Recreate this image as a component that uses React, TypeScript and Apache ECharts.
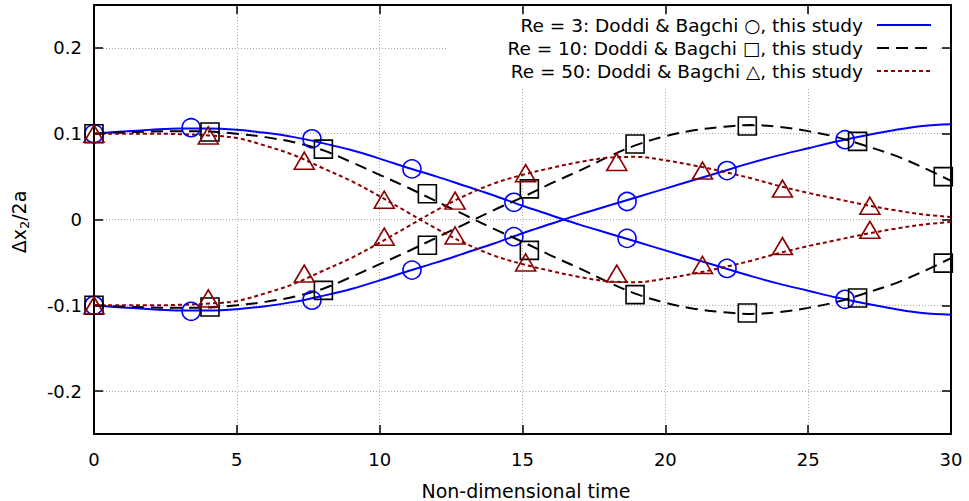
import React, { useEffect, useRef } from "react";
import * as echarts from "echarts";

const TIME = [0, 1, 2, 3, 4, 5, 6, 7, 8, 9, 10, 11, 12, 13, 14, 15, 16, 17, 18, 19, 20, 21, 22, 23, 24, 25, 26, 27, 28, 29, 30];

// this study (lines)
const RE3_UP = [0.1, 0.1025, 0.1045, 0.106, 0.106, 0.1045, 0.101, 0.096, 0.089, 0.081, 0.071, 0.06, 0.05, 0.039, 0.028, 0.016, 0.005, -0.006, -0.016, -0.026, -0.036, -0.046, -0.056, -0.066, -0.075, -0.083, -0.091, -0.098, -0.104, -0.109, -0.111];
const RE3_DN = [-0.1, -0.1025, -0.1045, -0.106, -0.106, -0.1045, -0.101, -0.096, -0.089, -0.081, -0.071, -0.06, -0.05, -0.039, -0.028, -0.016, -0.005, 0.006, 0.016, 0.026, 0.036, 0.046, 0.056, 0.066, 0.075, 0.083, 0.091, 0.098, 0.104, 0.109, 0.111];
const RE10_UP = [0.1, 0.1015, 0.1025, 0.103, 0.1025, 0.1, 0.096, 0.09, 0.081, 0.067, 0.052, 0.037, 0.021, 0.005, -0.011, -0.026, -0.042, -0.057, -0.073, -0.087, -0.097, -0.104, -0.108, -0.11, -0.108, -0.103, -0.096, -0.086, -0.075, -0.061, -0.045];
const RE10_DN = [-0.1, -0.1015, -0.1025, -0.103, -0.1025, -0.1, -0.096, -0.09, -0.081, -0.067, -0.052, -0.037, -0.021, -0.005, 0.011, 0.026, 0.042, 0.057, 0.073, 0.087, 0.097, 0.104, 0.108, 0.11, 0.108, 0.103, 0.096, 0.086, 0.075, 0.061, 0.045];
const RE50_UP = [0.1, 0.1, 0.1, 0.0995, 0.098, 0.095, 0.086, 0.075, 0.06, 0.045, 0.027, 0.008, -0.011, -0.028, -0.042, -0.052, -0.06, -0.067, -0.072, -0.073, -0.069, -0.063, -0.056, -0.048, -0.039, -0.031, -0.024, -0.017, -0.011, -0.006, -0.003];
const RE50_DN = [-0.1, -0.1, -0.1, -0.0995, -0.098, -0.095, -0.086, -0.075, -0.06, -0.045, -0.027, -0.008, 0.011, 0.028, 0.042, 0.052, 0.06, 0.067, 0.072, 0.073, 0.069, 0.063, 0.056, 0.048, 0.039, 0.031, 0.024, 0.017, 0.011, 0.006, 0.003];

// Doddi & Bagchi (markers)
const RE3_MX = [0, 3.4, 7.63, 11.13, 14.7, 18.66, 22.16, 26.29];
const RE3_MUP = [0.1, 0.107, 0.094, 0.059, 0.02, -0.022, -0.057, -0.093];
const RE3_MDN = [-0.1, -0.107, -0.094, -0.059, -0.02, 0.021, 0.057, 0.093];
const RE10_MX = [0, 4.06, 8.03, 11.67, 15.24, 18.94, 22.87, 26.73, 29.73];
const RE10_MUP = [0.1, 0.102, 0.082, 0.03, -0.036, -0.0876, -0.109, -0.0915, -0.0508];
const RE10_MDN = [-0.1, -0.102, -0.0826, -0.03, 0.0357, 0.088, 0.109, 0.091, 0.05];
const RE50_MX = [0, 4.0, 7.36, 10.16, 12.64, 15.11, 18.3, 21.3, 24.1, 27.16];
const RE50_MUP = [0.1, 0.098, 0.0686, 0.023, -0.0186, -0.05, -0.063, -0.053, -0.031, -0.012];
const RE50_MDN = [-0.1, -0.092, -0.063, -0.02, 0.022, 0.054, 0.067, 0.057, 0.036, 0.016];

const LEGEND_TEXTS = [
  "Re = 3: Doddi & Bagchi \u25CB, this study",
  "Re = 10: Doddi & Bagchi \u25A1, this study",
  "Re = 50: Doddi & Bagchi \u25B3, this study",
];

const X_TITLE = "Non-dimensional time";

const BLUE = "#0000ff";
const BLACK = "#000000";
const DRED = "#8b0000";
const FONT = "DejaVu Sans";

const pair = (xs: number[], ys: number[]) => xs.map((x, i) => [x, ys[i]]);

export default function App() {
  const ref = useRef<HTMLDivElement>(null);
  useEffect(() => {
    if (!ref.current) return;
    const chart = echarts.init(ref.current, null, { renderer: "svg" });
    const lineS = (data: number[], color: string, type: any) => ({
      type: "line",
      data: pair(TIME, data),
      smooth: 0.35,
      showSymbol: false,
      symbol: "none",
      lineStyle: { color, width: 2, type },
      z: 3,
    });
    const markS = (xs: number[], ys: number[], color: string, symbol: string, size: any) => ({
      type: "scatter",
      data: pair(xs, ys),
      symbol,
      symbolSize: size,
      clip: false,
      itemStyle: { color: "rgba(0,0,0,0)", borderColor: color, borderWidth: 1.6, opacity: 1 },
      z: 4,
    });
    const axisLine = { show: true, onZero: false, lineStyle: { color: "#000", width: 2 } };
    const tick = { show: true, inside: true, length: 9, lineStyle: { color: "#000", width: 1.5 } };
    const grid = { show: true, lineStyle: { color: "#a8a8a8", width: 1, type: [1, 2] } };
    const legendY = [25, 48, 71];
    const legendStyles: any[] = [
      { color: BLUE, dash: null },
      { color: BLACK, dash: [12, 7] },
      { color: DRED, dash: [4, 3] },
    ];
    const graphic: any[] = [
      {
        type: "rect",
        shape: { x: 447, y: 15, width: 493, height: 72 },
        style: { fill: "#ffffff" },
        z: 5,
      },
    ];
    LEGEND_TEXTS.forEach((t, i) => {
      graphic.push({
        type: "text",
        x: 863,
        y: legendY[i],
        z: 6,
        style: {
          text: t,
          fill: "#000",
          fontSize: 18.5,
          fontFamily: FONT,
          align: "right",
          verticalAlign: "middle",
          textAlign: "right",
          textVerticalAlign: "middle",
        },
      });
      graphic.push({
        type: "line",
        z: 6,
        shape: { x1: 877, y1: legendY[i], x2: 931, y2: legendY[i] },
        style: { stroke: legendStyles[i].color, lineWidth: 2, lineDash: legendStyles[i].dash },
      });
    });
    graphic.push({
      type: "text",
      x: 526,
      y: 491,
      z: 6,
      style: {
        text: X_TITLE,
        fill: "#000",
        fontSize: 19,
        fontFamily: FONT,
        align: "center",
        verticalAlign: "middle",
        textAlign: "center",
        textVerticalAlign: "middle",
      },
    });
    graphic.push({
      type: "text",
      x: 19,
      y: 222,
      rotation: Math.PI / 2,
      z: 6,
      style: {
        text: "{a|\u0394x}{s|2}{a|/2a}",
        fill: "#000",
        fontFamily: FONT,
        align: "center",
        verticalAlign: "middle",
        textAlign: "center",
        textVerticalAlign: "middle",
        rich: {
          a: { fontSize: 19, fontFamily: FONT, fill: "#000", color: "#000", lineHeight: 24, verticalAlign: "middle" },
          s: { fontSize: 13, fontFamily: FONT, fill: "#000", color: "#000", lineHeight: 24, verticalAlign: "bottom" },
        },
      },
    });

    chart.setOption({
      animation: false,
      backgroundColor: "#ffffff",
      textStyle: { fontFamily: FONT },
      grid: { left: 94, right: 18, top: 5, bottom: 67, containLabel: false },
      xAxis: [
        {
          type: "value",
          position: "bottom",
          min: 0,
          max: 30,
          interval: 5,
          axisLine,
          axisTick: tick,
          splitLine: grid,
          axisLabel: { color: "#000", fontSize: 18, fontFamily: FONT, margin: 16 },
        },
        {
          type: "value",
          position: "top",
          min: 0,
          max: 30,
          interval: 5,
          axisLine,
          axisTick: tick,
          splitLine: { show: false },
          axisLabel: { show: false },
        },
      ],
      yAxis: [
        {
          type: "value",
          position: "left",
          min: -0.25,
          max: 0.25,
          splitNumber: 5,
          axisLine,
          axisTick: tick,
          splitLine: grid,
          axisLabel: { color: "#000", fontSize: 18, fontFamily: FONT, margin: 12, showMinLabel: false, showMaxLabel: false },
        },
        {
          type: "value",
          position: "right",
          min: -0.25,
          max: 0.25,
          splitNumber: 5,
          axisLine,
          axisTick: tick,
          splitLine: { show: false },
          axisLabel: { show: false },
        },
      ],
      series: [
        lineS(RE3_UP, BLUE, "solid"),
        lineS(RE3_DN, BLUE, "solid"),
        lineS(RE10_UP, BLACK, [12, 7]),
        lineS(RE10_DN, BLACK, [12, 7]),
        lineS(RE50_UP, DRED, [4, 3]),
        lineS(RE50_DN, DRED, [4, 3]),
        markS(RE3_MX, RE3_MUP, BLUE, "circle", 18),
        markS(RE3_MX, RE3_MDN, BLUE, "circle", 18),
        markS(RE10_MX, RE10_MUP, BLACK, "rect", 18),
        markS(RE10_MX, RE10_MDN, BLACK, "rect", 18),
        markS(RE50_MX, RE50_MUP, DRED, "triangle", [20, 17]),
        markS(RE50_MX, RE50_MDN, DRED, "triangle", [20, 17]),
      ],
      graphic,
    });
    return () => chart.dispose();
  }, []);
  return (
    <div
      ref={ref}
      style={{ position: "absolute", left: 0, top: 0, width: 969, height: 501, background: "#fff" }}
    />
  );
}
